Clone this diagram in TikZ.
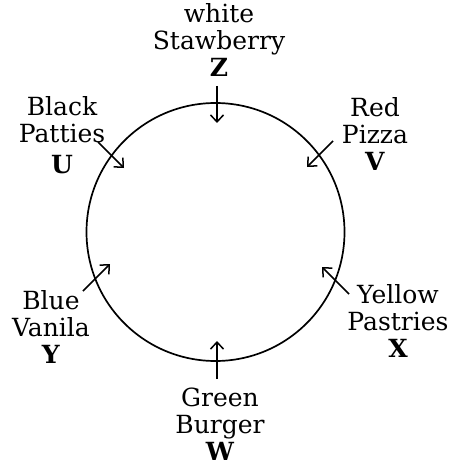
\documentclass[tikz,border=0pt]{standalone}
\usepackage{fontspec}
\setmainfont{DejaVu Serif}
\usetikzlibrary{arrows.meta}

\begin{document}
\begin{tikzpicture}[x=1pt, y=-1pt, line width=1.5pt,
    >={Straight Barb[length=7pt,width=13pt]},
    label/.style={align=center, font=\fontsize{25}{27}\selectfont, inner sep=0pt, anchor=base}]

    \useasboundingbox (0,0) rectangle (452,465);

    % the round table
    \draw[line width=1.7pt] (215.5,232) circle (129);

    % names round the table (anchor = baseline of the letter)
    \node[label] (z) at (219,77)  {white\\Stawberry\\\textbf{Z}};
    \node[label] (u) at (62,173)  {Black\\Patties\\[4pt]\textbf{U}};
    \node[label] (v) at (375,171) {Red\\Pizza\\\textbf{V}};
    \node[label] (y) at (51,363)  {Blue\\Vanila\\\textbf{Y}};
    \node[label] (x) at (398,357) {Yellow\\Pastries\\\textbf{X}};
    \node[label] (w) at (220,460) {Green\\Burger\\\textbf{W}};

    % where each one looks
    \coordinate (z-tail) at (217,86);   \coordinate (z-head) at (217,123);
    \coordinate (u-tail) at (98,142);   \coordinate (u-head) at (124,168);
    \coordinate (v-tail) at (333,141);  \coordinate (v-head) at (307,167);
    \coordinate (y-tail) at (83,291);   \coordinate (y-head) at (110,264);
    \coordinate (x-tail) at (349,294);  \coordinate (x-head) at (322,267);
    \coordinate (w-tail) at (217,379);  \coordinate (w-head) at (217,341);

    \foreach \p in {z,u,v,y,x,w}
        \draw[->] (\p-tail) -- (\p-head);

\end{tikzpicture}
\end{document}
